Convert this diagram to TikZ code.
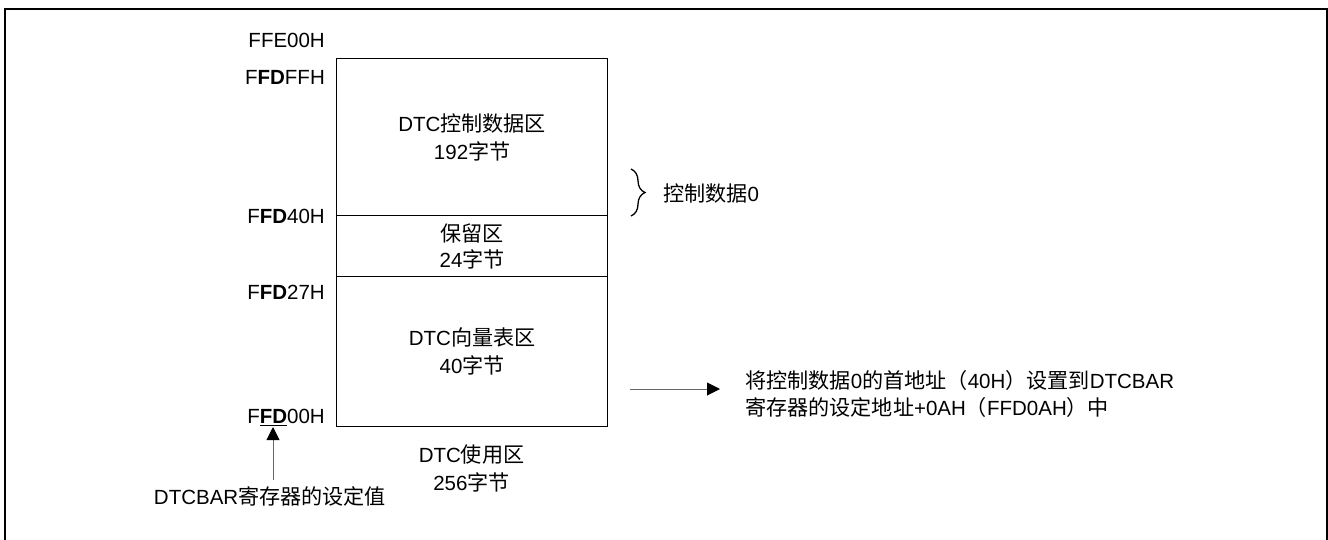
\documentclass[tikz,border=0pt]{standalone}
\usepackage{fontspec}
\setmainfont{Liberation Sans}
\newfontfamily\cjk[Scale=1.03]{Noto Sans CJK SC}
\newcommand\zh[1]{{\cjk #1}}
\usetikzlibrary{arrows.meta,decorations.pathreplacing}
\begin{document}
\begin{tikzpicture}[x=1pt,y=-1pt,
  txt/.style={inner sep=0pt, font=\fontsize{20.5}{28}\selectfont, align=center},
  addr/.style={inner sep=0pt, anchor=base east, font=\fontsize{20.5}{24}\selectfont},
  region/.style={draw, line width=1.4pt, minimum width=271pt, inner sep=0pt, anchor=north west,
                 align=center, font=\fontsize{20.5}{28}\selectfont},
  ptr/.style={draw=black!60, line width=1pt, -{Triangle[length=13pt,width=13pt,color=black]}},
  note/.style={inner sep=0pt, anchor=west, align=left, font=\fontsize{20.5}{27}\selectfont}
]
\useasboundingbox (0,0) rectangle (1328,539);
\draw[line width=2.5pt] (5,560) -- (5,9) -- (1327,9) -- (1327,560);

% memory regions
\node[region, minimum height=157pt] (ctrl) at (336,58) {DTC\zh{控制数据区}\\192\zh{字节}};
\node[region, minimum height=61pt, font=\fontsize{20.5}{26}\selectfont] (rsv) at (336,215) {\zh{保留区}\\24\zh{字节}};
\node[region, minimum height=150pt] (vec) at (336,276) {DTC\zh{向量表区}\\40\zh{字节}};
\node[txt] (use) at (471.5,468) {DTC\zh{使用区}\\256\zh{字节}};

% addresses
\node[addr] (a0) at (325,47.3) {FFE00H};
\node[addr] (a1) at (325,84.3) {F\textbf{FD}FFH};
\node[addr] (a2) at (325,223.3) {F\textbf{FD}40H};
\node[addr] (a3) at (325,299.3) {F\textbf{FD}27H};
\node[addr] (a4) at (325,423.3) {F\underline{\textbf{FD}}00H};

% DTCBAR pointer
\coordinate (fdtip) at (273,427);
\node[txt, inner ysep=6pt] (bar) at (270,496) {DTCBAR\zh{寄存器的设定值}};
\draw[ptr] (bar.north -| fdtip) -- (fdtip);

% brace
\node[txt, anchor=west] (cd0) at (663,193) {\zh{控制数据}0};
\draw[decorate, decoration={brace, amplitude=14pt}, line width=1.3pt] (631,169) -- (631,216);

% note arrow
\coordinate (ra) at (630,389);
\node[note] (nt) at (745,394) {\zh{将控制数据}0\zh{的首地址（}40H\zh{）设置到}DTCBAR\\\zh{寄存器的设定地址}+0AH\zh{（}FFD0AH\zh{）中}};
\draw[ptr, shorten >=25pt] (ra) -- (ra -| nt.west);
\end{tikzpicture}
\end{document}
